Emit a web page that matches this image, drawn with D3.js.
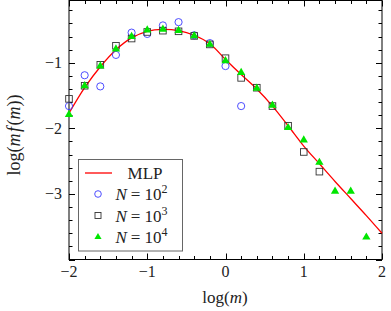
<!DOCTYPE html>
<html><head><meta charset="utf-8">
<script src="https://cdn.jsdelivr.net/npm/d3@7"></script>
<style>body{margin:0;background:#fff}svg{display:block}text{font-family:"Liberation Serif","DejaVu Serif",serif;fill:#222}</style>
</head><body>
<svg id="c" width="391" height="311"></svg>
<script>
const xVals = [-2,-1.8,-1.6,-1.4,-1.2,-1.0,-0.8,-0.6,-0.4,-0.2,0,0.2,0.4,0.6,0.8,1.0,1.2,1.4,1.6,1.8,2.0];
const mlp = [-1.77,-1.38,-1.06,-0.80,-0.62,-0.52,-0.49,-0.51,-0.58,-0.71,-0.95,-1.18,-1.40,-1.66,-1.96,-2.27,-2.54,-2.81,-3.07,-3.33,-3.60];
const n2 = [-1.66,-1.19,-1.36,-0.88,-0.54,-0.56,-0.43,-0.38,-0.58,-0.70,-1.05,-1.66];
const n3 = [-1.55,-1.35,-1.03,-0.74,-0.63,-0.53,-0.51,-0.52,-0.59,-0.72,-0.93,-1.23,-1.38,-1.66,-1.96,-2.36,-2.66];
const n4 = [-1.79,-1.35,-1.05,-0.79,-0.60,-0.50,-0.49,-0.51,-0.59,-0.72,-0.97,-1.15,-1.39,-1.65,-1.99,-2.18,-2.52,-2.96,-2.96,-3.66];
const xTicks = [-2,-1,0,1,2];
const yTicks = [-3,-2,-1];
const legendLabels = ["MLP","N = 10","N = 10","N = 10"];

const svg = d3.select("#c");
const L=69, R=382, T=0.5, B=259.5;
const x = d3.scaleLinear().domain([-2,2]).range([L,R]);
const y = d3.scaleLinear().domain([-4,-0.05]).range([B,T]);

// frame
svg.append("rect").attr("x",L).attr("y",T).attr("width",R-L).attr("height",B-T)
  .attr("fill","none").attr("stroke","#000").attr("stroke-width",1);

// ticks
const xMinor = d3.range(-2,2.001,0.2).map(v=>+v.toFixed(2));
const yMinor = d3.range(-4,-0.05,0.2).map(v=>+v.toFixed(2));
const isInt = v=>Math.abs(v-Math.round(v))<1e-6;
const tk = svg.append("g").attr("stroke","#000").attr("stroke-width",1);
xMinor.forEach(v=>{
  const len = isInt(v)?6:3.5, px=Math.round(x(v))+0.5;
  tk.append("line").attr("x1",px).attr("x2",px).attr("y1",B).attr("y2",B-len);
  tk.append("line").attr("x1",px).attr("x2",px).attr("y1",T).attr("y2",T+len);
});
yMinor.forEach(v=>{
  const len = isInt(v)?6:3.5, py=Math.round(y(v))+0.5;
  tk.append("line").attr("y1",py).attr("y2",py).attr("x1",L).attr("x2",L+len);
  tk.append("line").attr("y1",py).attr("y2",py).attr("x1",R).attr("x2",R-len);
});
// tick labels
svg.append("g").selectAll("text").data(xTicks).join("text")
  .attr("x",d=>x(d)).attr("y",277).attr("text-anchor","middle").attr("font-size",16)
  .text(d=>d<0?"\u2212"+(-d):d);
svg.append("g").selectAll("text").data(yTicks).join("text")
  .attr("x",62).attr("y",d=>y(d)+5.5).attr("text-anchor","end").attr("font-size",16)
  .text(d=>"\u2212"+(-d));
// axis labels
const xl = svg.append("text").attr("x",225).attr("y",302.5).attr("text-anchor","middle").attr("font-size",17);
xl.append("tspan").text("log(");
xl.append("tspan").attr("font-style","italic").text("m");
xl.append("tspan").text(")");
const yl = svg.append("text").attr("transform","translate(20,135) rotate(-90)").attr("text-anchor","middle").attr("font-size",18);
yl.append("tspan").text("log(");
yl.append("tspan").attr("font-style","italic").text("m");
yl.append("tspan").attr("font-style","italic").attr("dx",1.5).text("f");
yl.append("tspan").attr("dx",1.5).text("(");
yl.append("tspan").attr("font-style","italic").text("m");
yl.append("tspan").text("))");

const plot = svg.append("g");
// line
plot.append("path").datum(xVals.map((v,i)=>[v,mlp[i]]))
  .attr("d",d3.line().x(d=>x(d[0])).y(d=>y(d[1])).curve(d3.curveCatmullRom))
  .attr("fill","none").attr("stroke","#ff0000").attr("stroke-width",1.3);

// markers
const circ = "#3a3aff", sq="#333", tri="#00e600";
plot.append("g").selectAll("circle").data(n2).join("circle")
  .attr("cx",(d,i)=>x(xVals[i])).attr("cy",d=>y(d)).attr("r",3.6)
  .attr("fill","none").attr("stroke",circ).attr("stroke-width",0.9);
plot.append("g").selectAll("rect").data(n3).join("rect")
  .attr("x",(d,i)=>x(xVals[i])-3.3).attr("y",d=>y(d)-3.3).attr("width",6.6).attr("height",6.6)
  .attr("fill","none").attr("stroke",sq).attr("stroke-width",0.9);
const triPath = d3.symbol().type(d3.symbolTriangle).size(30);
plot.append("g").selectAll("path").data(n4).join("path")
  .attr("transform",(d,i)=>`translate(${x(xVals[i])},${y(d)})`).attr("d",triPath).attr("fill",tri);

// legend
const lg = svg.append("g");
lg.append("rect").attr("x",78.5).attr("y",159.5).attr("width",104).attr("height",91.5)
  .attr("fill","#fff").attr("stroke","#666").attr("stroke-width",1);
lg.append("line").attr("x1",85).attr("x2",112).attr("y1",173).attr("y2",173).attr("stroke","#ff0000").attr("stroke-width",1.3);
lg.append("text").attr("x",145).attr("y",179).attr("text-anchor","middle").attr("font-size",17).text(legendLabels[0]);
lg.append("circle").attr("cx",98).attr("cy",194).attr("r",3.3).attr("fill","none").attr("stroke",circ).attr("stroke-width",0.9);
lg.append("rect").attr("x",95).attr("y",212.5).attr("width",6).attr("height",6).attr("fill","none").attr("stroke",sq).attr("stroke-width",0.9);
lg.append("path").attr("transform","translate(98,237)").attr("d",d3.symbol().type(d3.symbolTriangle).size(22)).attr("fill",tri);
const exps=["2","3","4"], ys=[200,221.5,243];
exps.forEach((e,i)=>{
  const t = lg.append("text").attr("x",115.5).attr("y",ys[i]).attr("font-size",17);
  t.append("tspan").attr("font-style","italic").text("N");
  t.append("tspan").attr("dx",4).text("=");
  t.append("tspan").attr("dx",4).text("10");
  t.append("tspan").attr("font-size",12).attr("dy",-7).text(e);
});
</script>
</body></html>
